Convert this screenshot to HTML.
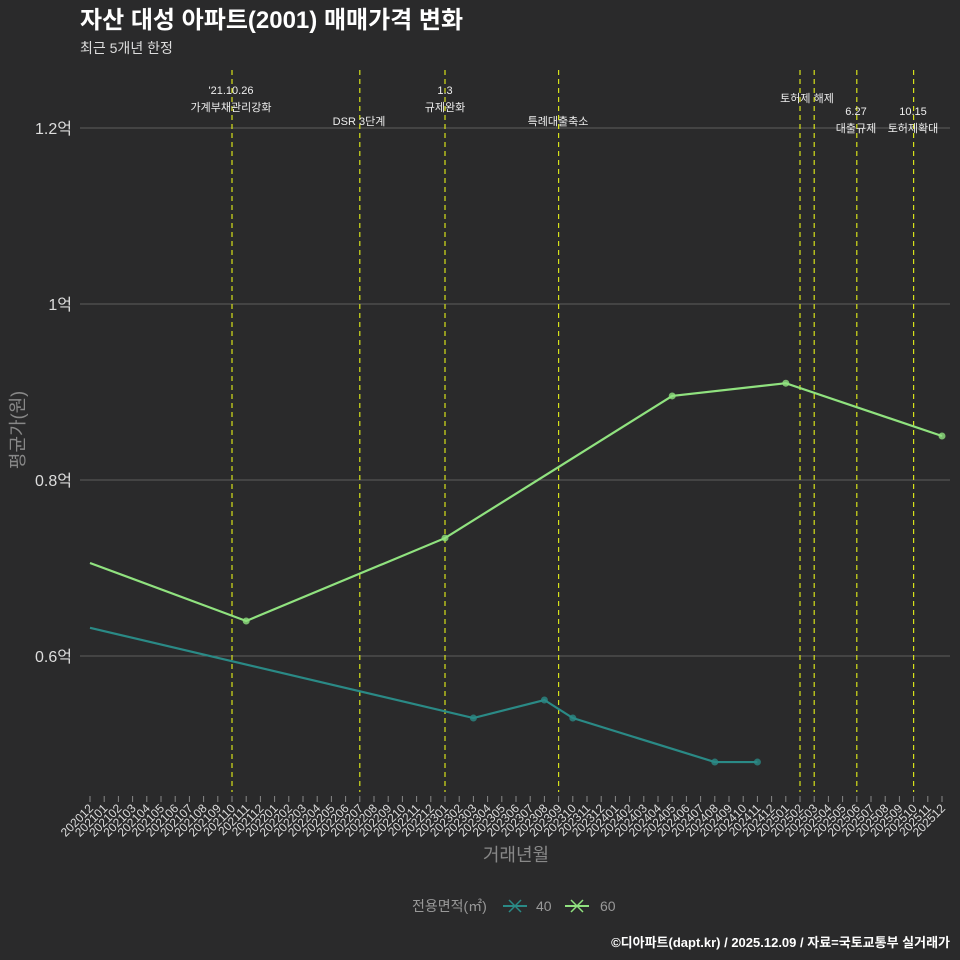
<!DOCTYPE html>
<html><head><meta charset="utf-8"><style>
html,body{margin:0;background:#2a2a2b;overflow:hidden;width:960px;height:960px;}
svg{display:block;}
svg text{font-family:"Liberation Sans","Noto Sans CJK KR",sans-serif;}
</style></head><body>
<svg id="c" width="960" height="960" xmlns="http://www.w3.org/2000/svg">
<rect width="960" height="960" fill="#2a2a2b"/>
<text x="80" y="28" font-size="24" font-weight="bold" fill="#ffffff">자산 대성 아파트(2001) 매매가격 변화</text>
<text x="80" y="53" font-size="14" fill="#dddddd">최근 5개년 한정</text>
<g id="grid"></g><g id="vlines"></g><g id="series"></g><g id="xt"></g>
<text transform="translate(24,430) rotate(-90)" text-anchor="middle" font-size="18" fill="#888">평균가(원)</text>
<text x="516" y="861" text-anchor="middle" font-size="18" fill="#888">거래년월</text>
<g>
<text x="412" y="911" font-size="14" fill="#999">전용면적(㎡)</text>
<g><line x1="503" y1="906" x2="527" y2="906" stroke="#2a8a86" stroke-width="2"/><path d="M509 900 L521 912 M521 900 L509 912" stroke="#2a8a86" stroke-width="1.5"/><text x="536" y="911" font-size="14" fill="#999">40</text></g>
<g><line x1="565" y1="906" x2="589" y2="906" stroke="#90e27f" stroke-width="2"/><path d="M571 900 L583 912 M583 900 L571 912" stroke="#90e27f" stroke-width="1.5"/><text x="600" y="911" font-size="14" fill="#999">60</text></g>
</g>
<text x="950" y="947" text-anchor="end" font-size="13" font-weight="bold" fill="#ffffff">©디아파트(dapt.kr) / 2025.12.09 / 자료=국토교통부 실거래가</text>
</svg>
<script>
const months=[];for(let y=2020;y<=2025;y++)for(let m=1;m<=12;m++){if(y==2020&&m<12)continue;months.push(y+String(m).padStart(2,'0'));}
const yTicks=[0.6,0.8,1.0,1.2];
const yTickLabels=['0.6억','0.8억','1억','1.2억'];
const s40Months=['202012','202303','202308','202310','202408','202411'];
const s40Values=[0.632,0.5295,0.55,0.5295,0.4795,0.4795];
const s60Months=['202012','202111','202301','202405','202501','202512'];
const s60Values=[0.7057,0.6398,0.734,0.8955,0.910,0.850];
const eventMonths=['202110','202207','202301','202309','202502','202503','202506','202510'];
const eventLabels=[["'21.10.26","가계부채관리강화"],["DSR 3단계"],["1.3","규제완화"],["특례대출축소"],["토허제 해제"],[""],["6.27","대출규제"],["10.15","토허제확대"]];
const eventLabelY=[[94,111],[125],[94,111],[125],[102],[],[115,132],[115,132]];
const eventLabelX=[231,359,445,558,807,814,856,913];
const NS='http://www.w3.org/2000/svg';
const X=m=>90+months.indexOf(m)*(852/(months.length-1));
const Y=v=>656-(v-0.6)*880;
function mk(t,a,p){const e=document.createElementNS(NS,t);for(const k in a)e.setAttribute(k,a[k]);p.appendChild(e);return e;}
const grid=document.getElementById('grid');
yTicks.forEach((v,i)=>{const l=mk('line',{x1:80,x2:950,y1:Y(v),y2:Y(v),stroke:'#5e5e5e','stroke-width':1},grid);


const t=mk('text',{x:72,y:Y(v)+6,'text-anchor':'end','font-size':16,fill:'#dddddd'},grid);t.textContent=yTickLabels[i];

});
const vl=document.getElementById('vlines');
eventMonths.forEach((m,i)=>{const l=mk('line',{x1:X(m),x2:X(m),y1:70,y2:792,stroke:'#d6e21a','stroke-width':1.2,'stroke-dasharray':'5,4'},vl);


eventLabels[i].forEach((s,j)=>{const t=mk('text',{x:eventLabelX[i],y:eventLabelY[i][j],'text-anchor':'middle','font-size':11,fill:'#eeeeee'},vl);t.textContent=s;

});});
const sg=document.getElementById('series');
function series(ms,vs,col,name){const p=mk('polyline',{points:ms.map((m,i)=>X(m)+','+Y(vs[i])).join(' '),fill:'none',stroke:col,'stroke-width':2.2},sg);


ms.forEach((m,i)=>{if(i==0)return;const c=mk('circle',{cx:X(m),cy:Y(vs[i]),r:3.5,fill:col,opacity:0.8},sg);

});}
series(s40Months,s40Values,'#2a8a86','series-40');
series(s60Months,s60Values,'#90e27f','series-60');
const xt=document.getElementById('xt');
months.forEach(m=>{const x=X(m);mk('line',{x1:x,x2:x,y1:796,y2:802,stroke:'#888'},xt);
const t=mk('text',{x:0,y:0,'text-anchor':'end','font-size':12,fill:'#dddddd',transform:`translate(${x+4},${809}) rotate(-45)`},xt);t.textContent=m;

});
</script>
</body></html>
